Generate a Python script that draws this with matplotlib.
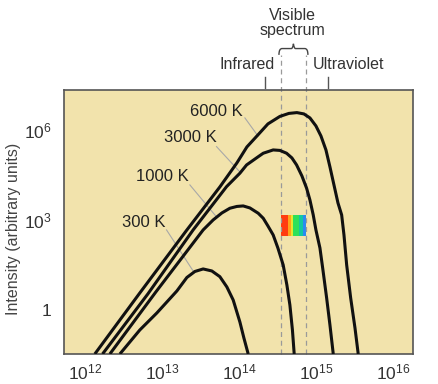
import matplotlib
matplotlib.use('Agg')
import matplotlib.pyplot as plt
import numpy as np
from matplotlib.path import Path
from matplotlib.patches import PathPatch

plt.rcParams['font.family'] = ['Liberation Sans', 'DejaVu Sans']
plt.rcParams['mathtext.fontset'] = 'custom'
plt.rcParams['mathtext.rm'] = 'Liberation Sans'
plt.rcParams['mathtext.it'] = 'Liberation Sans'

# curvas: log10(frecuencia en Hz), log10(intensidad)
t6000_x = [12.130, 12.714, 13.325, 13.753, 13.974, 14.104, 14.247, 14.377, 14.532, 14.649,
           14.753, 14.844, 14.922, 15.000, 15.065, 15.130, 15.182, 15.234, 15.286, 15.334,
           15.364, 15.399, 15.451, 15.507, 15.549]
t6000_y = [-1.467, 0.567, 2.667, 4.100, 4.900, 5.433, 5.833, 6.200, 6.450, 6.550,
           6.577, 6.533, 6.400, 6.133, 5.800, 5.333, 4.767, 4.167, 3.567, 3.167,
           2.500, 1.500, 0.400, -0.600, -1.467]

t3000_x = [12.230, 12.818, 13.406, 13.840, 14.013, 14.100, 14.247, 14.316, 14.445, 14.532,
           14.619, 14.688, 14.749, 14.818, 14.879, 14.922, 14.965, 15.000, 15.052, 15.091,
           15.139, 15.182, 15.225]
t3000_y = [-1.467, 0.533, 2.667, 4.110, 4.557, 4.833, 5.100, 5.223, 5.333, 5.317,
           5.223, 5.067, 4.833, 4.467, 4.057, 3.667, 3.167, 2.667, 2.067, 1.333,
           0.400, -0.500, -1.467]

t1000_x = [12.325, 12.922, 13.536, 13.666, 13.779, 13.883, 13.974, 14.056, 14.143, 14.251,
           14.316, 14.377, 14.445, 14.506, 14.575, 14.623, 14.662, 14.695, 14.718]
t1000_y = [-1.467, 0.600, 2.667, 3.000, 3.233, 3.390, 3.450, 3.467, 3.400, 3.223,
           3.057, 2.800, 2.500, 2.067, 1.500, 0.833, 0.167, -0.667, -1.467]

t300_x = [12.455, 12.714, 12.935, 13.195, 13.325, 13.429, 13.536, 13.649, 13.753, 13.844,
          13.926, 14.013, 14.065, 14.121]
t300_y = [-1.467, -0.667, -0.100, 0.633, 1.083, 1.283, 1.367, 1.300, 1.110, 0.767,
          0.333, -0.400, -0.933, -1.467]

curvas = [(t6000_x, t6000_y), (t3000_x, t3000_y), (t1000_x, t1000_y), (t300_x, t300_y)]

# etiquetas: texto, posicion del texto, inicio y fin de la linea guia (log10)
etiquetas = ['6000 K', '3000 K', '1000 K', '300 K']
etq_pos = [(13.714, 6.60), (13.364, 5.733), (13.006, 4.443), (12.766, 2.90)]
guia_ini = [(14.078, 6.40), (13.710, 5.443), (13.364, 4.167), (13.061, 2.667)]
guia_fin = [(14.247, 5.80), (14.013, 4.60), (13.710, 3.10), (13.406, 1.30)]

# limites del visible y bandas de color
visible = [3.5e14, 7.5e14]
bandas_x = [14.545, 14.640, 14.675, 14.705, 14.779, 14.827, 14.870]
bandas_c = ['#ff3b10', '#ffa31a', '#e6e632', '#2ee05a', '#12c8a0', '#2a8af0']
bandas_y = [2.477, 3.167]

xticks = [1e12, 1e13, 1e14, 1e15, 1e16]
xtlabels = ['$10^{12}$', '$10^{13}$', '$10^{14}$', '$10^{15}$', '$10^{16}$']
yticks = [1, 1e3, 1e6]
ytlabels = ['1', '$10^{3}$', '$10^{6}$']

fondo = '#f2e3ac'
ylo, yhi = -1.467, 7.33

fig = plt.figure(figsize=(4.38, 3.84), dpi=100)
ax = fig.add_axes([64/438, 30/384, 349/438, 264/384])
ax.set_facecolor(fondo)
ax.set_xscale('log')
ax.set_yscale('log')
ax.set_xlim(10**11.73, 10**16.26)
ax.set_ylim(10**ylo, 10**yhi)

for cx, cy in curvas:
    ax.plot(10**np.array(cx), 10**np.array(cy), color='#111111', lw=2.2,
            solid_capstyle='butt', solid_joinstyle='round', zorder=3)

for i in range(len(etiquetas)):
    ax.text(10**etq_pos[i][0], 10**etq_pos[i][1], etiquetas[i], fontsize=12,
            ha='center', va='center', color='#222222')
    ax.plot([10**guia_ini[i][0], 10**guia_fin[i][0]], [10**guia_ini[i][1], 10**guia_fin[i][1]],
            color='#a8a8a8', lw=0.8, zorder=2)

# barra de colores del visible
yb0 = (bandas_y[0] - ylo) / (yhi - ylo)
yb1 = (bandas_y[1] - ylo) / (yhi - ylo)
for i in range(len(bandas_c)):
    ax.axvspan(10**bandas_x[i], 10**bandas_x[i+1], ymin=yb0, ymax=yb1,
               color=bandas_c[i], lw=0, zorder=2)

# lineas punteadas del visible (siguen por encima del grafico)
tr = ax.get_xaxis_transform()
for v in visible:
    ax.plot([v, v], [0, 1.133], transform=tr, color='#9a9a9a', lw=0.9,
            ls=(0, (4, 3)), clip_on=False, zorder=2.5)

# llave sobre el espectro visible
lx = [14.52, 14.52, 14.56, 14.68, 14.70, 14.708, 14.716, 14.736, 14.856, 14.896, 14.896]
ly = [1.133, 1.157, 1.157, 1.157, 1.157, 1.175, 1.157, 1.157, 1.157, 1.157, 1.133]
codes = [Path.MOVETO, Path.CURVE3, Path.CURVE3, Path.LINETO, Path.CURVE3, Path.CURVE3,
         Path.CURVE3, Path.CURVE3, Path.LINETO, Path.CURVE3, Path.CURVE3]
llave = Path(list(zip(10**np.array(lx), ly)), codes)
ax.add_patch(PathPatch(llave, transform=tr, fill=False, edgecolor='#444444', lw=1.0,
                       clip_on=False))

ax.text(10**14.701, 1.284, 'Visible', transform=tr, ha='center', va='center',
        fontsize=11.5, color='#333333')
ax.text(10**14.701, 1.225, 'spectrum', transform=tr, ha='center', va='center',
        fontsize=11.5, color='#333333')
ax.text(10**14.468, 1.098, 'Infrared', transform=tr, ha='right', va='center',
        fontsize=11.5, color='#333333')
ax.text(10**14.961, 1.098, 'Ultraviolet', transform=tr, ha='left', va='center',
        fontsize=11.5, color='#333333')
for v in [10**14.338, 10**15.156]:
    ax.plot([v, v], [1.008, 1.049], transform=tr, color='#555555', lw=1.0, clip_on=False)

ax.set_xticks(xticks)
ax.set_xticklabels(xtlabels)
ax.set_yticks(yticks)
ax.set_yticklabels(ytlabels)
ax.minorticks_off()
ax.tick_params(axis='both', length=0, labelsize=12.5, colors='#333333')
ax.tick_params(axis='x', pad=6)
ax.tick_params(axis='y', pad=9)
for s in ax.spines.values():
    s.set_color('#555555')
    s.set_linewidth(1.2)

ax.set_ylabel('Intensity (arbitrary units)', fontsize=11.5, color='#444444')
ax.yaxis.set_label_coords(-0.122, 0.475)

fig.savefig('out.png', dpi=100)
